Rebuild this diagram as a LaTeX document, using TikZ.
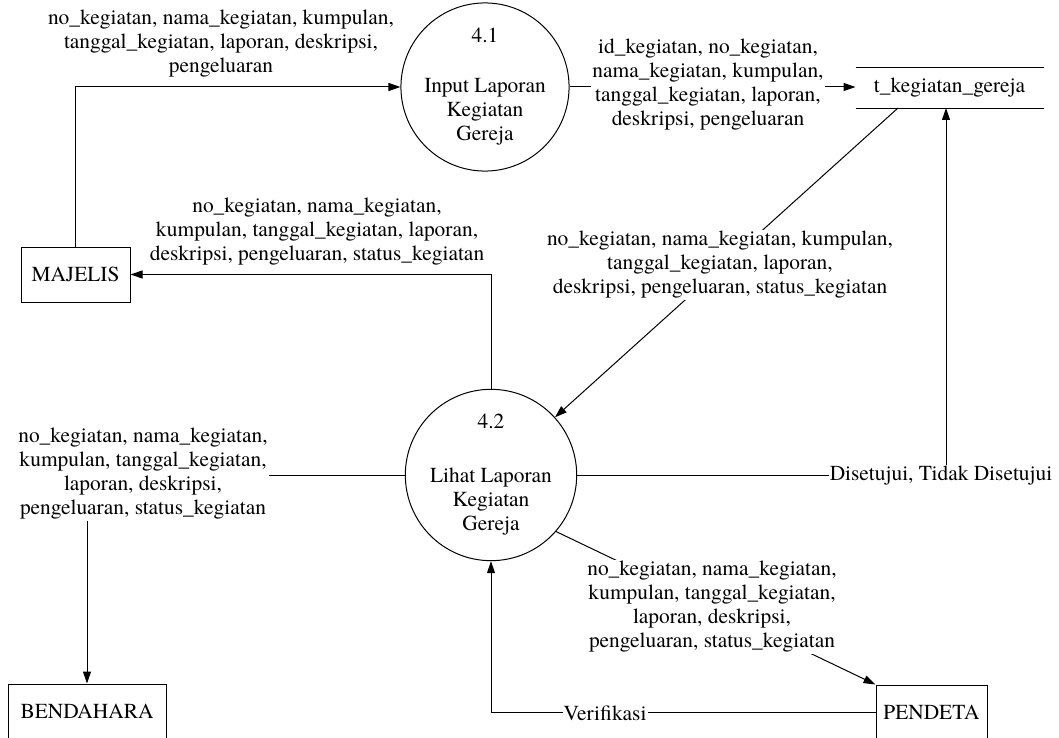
\documentclass[tikz,border=0pt]{standalone}
\usepackage{fontspec}
\setmainfont{texgyretermes}[Extension=.otf, UprightFont=*-regular, BoldFont=*-bold, ItalicFont=*-italic]
\usetikzlibrary{arrows.meta}
\begin{document}
\begin{tikzpicture}[x=1pt,y=-1pt, line width=1pt,
  every node/.style={font=\rmfamily\fontsize{21.4}{24}\selectfont},
  proc/.style={circle,draw,minimum size=158pt,inner sep=0pt,align=center},
  ent/.style={rectangle,draw,minimum height=55pt,inner sep=0pt},
  lbl/.style={align=center,inner sep=1pt},
  lblw/.style={lbl,fill=white},
  arr/.style={-{Triangle[length=12pt,width=8pt]}}]
\useasboundingbox (0,0) rectangle (1059,738);
\clip (0,0) rectangle (1059,738);
% processes
\node[proc] (p41) at (485,87) {4.1\\[26pt]Input Laporan\\Kegiatan\\Gereja};
\node[proc] (p42) at (491,475) {4.2\\[30pt]Lihat Laporan\\Kegiatan\\Gereja};
% entities
\node[ent, minimum width=109pt] (maj) at (75.5,274.5) {MAJELIS};
\node[ent, minimum width=158pt] (ben) at (87,711.5) {BENDAHARA};
\node[ent, minimum width=111pt] (pen) at (931.5,712.5) {PENDETA};
% data store
\node[minimum width=187pt, minimum height=40pt, inner sep=0pt] (st) at (949.5,88) {t\_kegiatan\_gereja};
\draw (st.north west) -- (st.north east) (st.south west) -- (st.south east);
\coordinate (sd) at (898,108);
\coordinate (sb) at (946,108);
% connectors
\draw[arr] (maj.north) |- (p41.west);
\draw[arr] (p41.east) -- (p41.east -| st.west);
\draw[arr] (p42.north) |- (maj.east);
\draw[arr] (sd) -- (p42);
\draw[arr] (p42.west) -| (ben.north);
\draw[arr] (p42.east) -| (sb);
\draw[arr] (pen.west) -| (p42.south);
\draw[arr] (p42.-41) -- (pen.north west);
% labels
\node[lbl] (l1) at (221,44) {no\_kegiatan, nama\_kegiatan, kumpulan,\\tanggal\_kegiatan, laporan, deskripsi,\\pengeluaran};
\node[lblw] (l2) at (708,85) {id\_kegiatan, no\_kegiatan,\\nama\_kegiatan, kumpulan,\\tanggal\_kegiatan, laporan,\\deskripsi, pengeluaran};
\node[lbl] (l3) at (317,232) {no\_kegiatan, nama\_kegiatan,\\kumpulan, tanggal\_kegiatan, laporan,\\deskripsi, pengeluaran, status\_kegiatan};
\node[lblw] (l4) at (720,265) {no\_kegiatan, nama\_kegiatan, kumpulan,\\tanggal\_kegiatan, laporan,\\deskripsi, pengeluaran, status\_kegiatan};
\node[lblw] (l5) at (143,474) {no\_kegiatan, nama\_kegiatan,\\kumpulan, tanggal\_kegiatan,\\laporan, deskripsi,\\pengeluaran, status\_kegiatan};
\node[lblw] (l6) at (941,476) {Disetujui, Tidak Disetujui};
\node[lblw] (l7) at (605,713) {Verifikasi};
\node[lblw] (l8) at (712,607) {no\_kegiatan, nama\_kegiatan,\\kumpulan, tanggal\_kegiatan,\\laporan, deskripsi,\\pengeluaran, status\_kegiatan};
\end{tikzpicture}
\end{document}
